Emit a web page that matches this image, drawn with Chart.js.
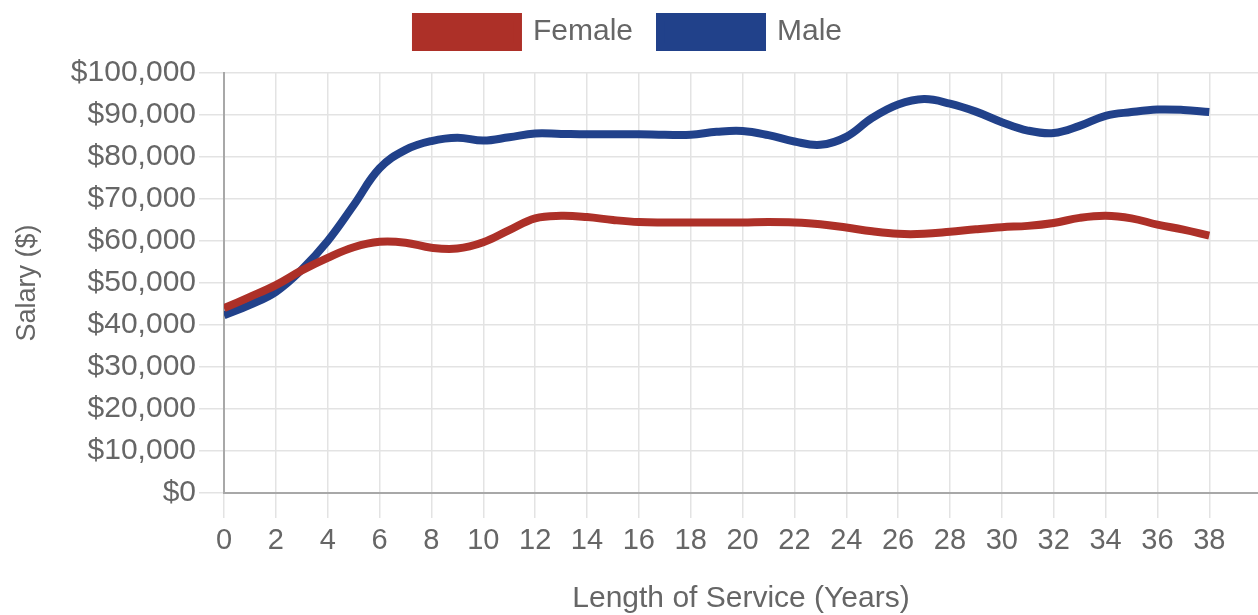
<!DOCTYPE html>
<html>
<head>
<meta charset="utf-8">
<script src="https://cdn.jsdelivr.net/npm/chart.js@4"></script>
<style>
  html, body { margin: 0; padding: 0; background: #fff; }
  #wrap { width: 1258px; height: 615px; }
</style>
</head>
<body>
<div id="wrap"><canvas id="c" width="1258" height="615"></canvas></div>
<script>
const years = [0,1,2,3,4,5,6,7,8,9,10,11,12,13,14,15,16,17,18,19,20,21,22,23,24,25,26,27,28,29,30,31,32,33,34,35,36,37,38];
const femaleSalary = [44000,46700,49500,53000,56000,58500,59800,59600,58400,58200,59700,62600,65400,66000,65700,65000,64500,64400,64400,64400,64400,64500,64400,64000,63200,62300,61700,61700,62200,62800,63300,63600,64300,65500,66000,65400,63900,62700,61300];
const maleSalary = [42300,44800,47900,53200,60000,68500,77300,81700,83800,84600,83900,84700,85600,85500,85400,85400,85400,85300,85300,86000,86200,85200,83700,82900,84800,89300,92500,93800,92700,90800,88300,86300,85700,87400,89800,90700,91300,91200,90700];
const yTickValues = [0,10000,20000,30000,40000,50000,60000,70000,80000,90000,100000];
const xTickValues = [0,2,4,6,8,10,12,14,16,18,20,22,24,26,28,30,32,34,36,38];

const FONT = '"Liberation Sans", Helvetica, Arial, sans-serif';
const RED = '#ad3028';
const BLUE = '#21418a';

const toPoints = arr => arr.map((v, i) => ({ x: years[i], y: v }));

const legendTweak = {
  id: 'legendTweak',
  beforeInit(chart) {
    const orig = chart.legend.fit;
    chart.legend.fit = function () { orig.call(this); this.height = 73; };
  },
  afterLayout(chart) {
    chart.legend.top -= 10;
  }
};

new Chart(document.getElementById('c'), {
  type: 'line',
  data: {
    datasets: [
      { label: 'Female', data: toPoints(femaleSalary), borderColor: RED, backgroundColor: RED,
        borderWidth: 8, pointRadius: 0, tension: 0.4, fill: false },
      { label: 'Male', data: toPoints(maleSalary), borderColor: BLUE, backgroundColor: BLUE,
        borderWidth: 8, pointRadius: 0, tension: 0.4, fill: false }
    ]
  },
  options: {
    responsive: false,
    animation: false,
    layout: { padding: { left: 0, right: 0, top: 0, bottom: 0 } },
    plugins: {
      tooltip: { enabled: false },
      legend: {
        position: 'top',
        labels: {
          font: { family: FONT, size: 30 },
          color: '#666',
          boxWidth: 102,
          boxHeight: 30,
          padding: 27
        }
      }
    },
    scales: {
      x: {
        type: 'linear',
        min: 0,
        max: 39.88,
        afterFit(scale) { scale.height = 122; },
        afterBuildTicks(scale) { scale.ticks = xTickValues.map(v => ({ value: v })); },
        ticks: { font: { family: FONT, size: 29 }, color: '#666', padding: 6, maxRotation: 0, autoSkip: false },
        grid: { color: '#e3e3e3', tickLength: 25, lineWidth: 1.5 },
        border: { color: '#a8a8a8', width: 2 },
        title: { display: true, text: 'Length of Service (Years)', font: { family: FONT, size: 30 }, color: '#666', padding: { top: 0, bottom: -2 } }
      },
      y: {
        min: 0,
        max: 100000,
        afterFit(scale) { scale.width = 224; },
        afterBuildTicks(scale) { scale.ticks = yTickValues.map(v => ({ value: v })); },
        ticks: {
          font: { family: FONT, size: 30 }, color: '#666', padding: 3,
          callback: v => '$' + Number(v).toLocaleString('en-US')
        },
        grid: { color: '#e3e3e3', tickLength: 25, lineWidth: 1.5 },
        border: { color: '#a8a8a8', width: 2 },
        title: { display: true, text: 'Salary ($)', font: { family: FONT, size: 27 }, color: '#666', padding: { top: 11, bottom: 0 } }
      }
    }
  },
  plugins: [legendTweak]
});
</script>
</body>
</html>
